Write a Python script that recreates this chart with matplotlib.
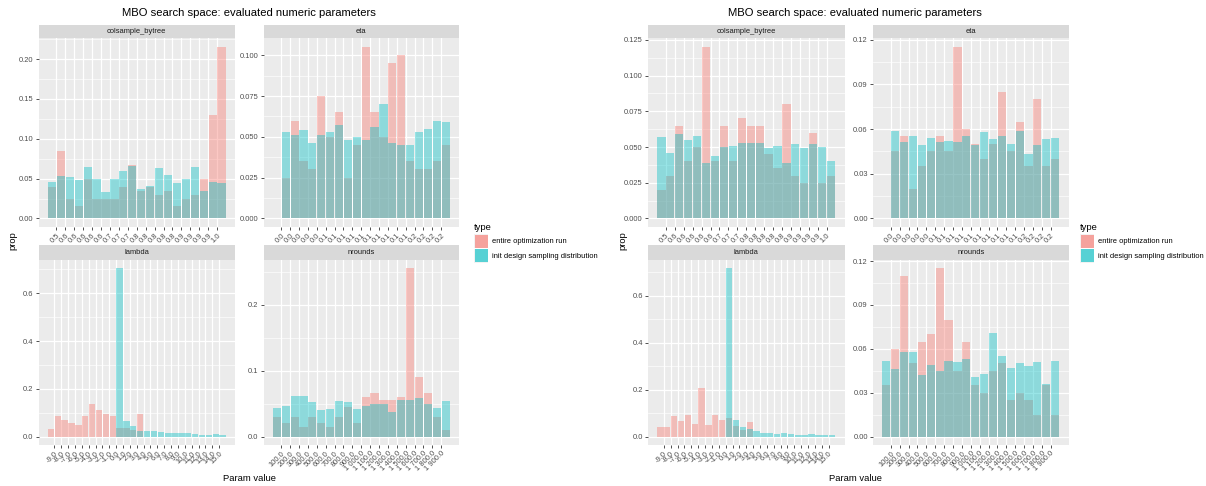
import numpy as np
import matplotlib.pyplot as plt
from matplotlib.patches import Rectangle
from matplotlib.ticker import MultipleLocator, NullLocator

plt.rcParams['font.family'] = ['Liberation Sans', 'DejaVu Sans']

W, H = 1206, 486

RUN_COLOR = '#F8766D'
INIT_COLOR = '#00BFC4'
BAR_ALPHA = 0.4

# x tick labels (bin edges between bars)
colsample_labels = ['0.5', '0.6', '0.6', '0.6', '0.6', '0.6', '0.7', '0.7', '0.7', '0.8',
                    '0.8', '0.8', '0.8', '0.8', '0.9', '0.9', '0.9', '0.9', '1.0']
eta_labels = ['0.0'] * 5 + ['0.1'] * 10 + ['0.2'] * 4
lambda_labels = ['%.1f' % v for v in range(-9, 16)]
nrounds_labels = ['100.0', '200.0', '300.0', '400.0', '500.0', '600.0', '700.0', '800.0', '900.0',
                  '1 000.0', '1 100.0', '1 200.0', '1 300.0', '1 400.0', '1 500.0', '1 600.0',
                  '1 700.0', '1 800.0', '1 900.0']

# experiment 1: proportions per bin
exp1_colsample_run = [0.040, 0.085, 0.025, 0.015, 0.049, 0.025, 0.025, 0.025, 0.040, 0.067,
                      0.035, 0.040, 0.030, 0.035, 0.015, 0.025, 0.030, 0.049, 0.130, 0.215]
exp1_colsample_init = [0.046, 0.053, 0.052, 0.048, 0.064, 0.050, 0.033, 0.050, 0.059, 0.066,
                       0.037, 0.041, 0.063, 0.054, 0.044, 0.050, 0.064, 0.034, 0.046, 0.045]
exp1_eta_run = [0.0, 0.025, 0.060, 0.035, 0.030, 0.075, 0.050, 0.065, 0.025, 0.045,
                0.105, 0.065, 0.050, 0.095, 0.100, 0.035, 0.030, 0.030, 0.035, 0.045]
exp1_eta_init = [0.0, 0.053, 0.051, 0.054, 0.046, 0.051, 0.053, 0.057, 0.048, 0.050,
                 0.048, 0.056, 0.070, 0.046, 0.045, 0.045, 0.053, 0.055, 0.060, 0.059]
exp1_lambda_run = [0.031, 0.085, 0.071, 0.056, 0.050, 0.085, 0.135, 0.110, 0.095, 0.085,
                   0.035, 0.035, 0.027, 0.095, 0, 0, 0, 0, 0, 0, 0, 0, 0, 0, 0, 0]
exp1_lambda_init = [0, 0, 0, 0, 0, 0, 0, 0, 0, 0,
                    0.704, 0.066, 0.046, 0.025, 0.024, 0.022, 0.018, 0.013, 0.013, 0.014,
                    0.017, 0.012, 0.006, 0.006, 0.010, 0.005]
exp1_nrounds_run = [0.030, 0.020, 0.030, 0.015, 0.030, 0.020, 0.015, 0.030, 0.045, 0.020,
                    0.060, 0.066, 0.055, 0.055, 0.060, 0.255, 0.090, 0.066, 0.030, 0.010]
exp1_nrounds_init = [0.044, 0.047, 0.061, 0.061, 0.053, 0.041, 0.042, 0.054, 0.053, 0.042,
                     0.047, 0.050, 0.050, 0.038, 0.056, 0.056, 0.058, 0.049, 0.044, 0.054]

# experiment 2
exp2_colsample_run = [0.020, 0.030, 0.065, 0.040, 0.050, 0.120, 0.040, 0.065, 0.040, 0.070,
                      0.065, 0.065, 0.045, 0.035, 0.080, 0.030, 0.025, 0.060, 0.025, 0.030]
exp2_colsample_init = [0.057, 0.046, 0.059, 0.055, 0.058, 0.039, 0.044, 0.050, 0.051, 0.053,
                       0.053, 0.053, 0.049, 0.051, 0.039, 0.052, 0.049, 0.052, 0.050, 0.040]
exp2_eta_run = [0.0, 0.045, 0.055, 0.020, 0.035, 0.045, 0.055, 0.045, 0.115, 0.060,
                0.050, 0.040, 0.050, 0.085, 0.045, 0.065, 0.035, 0.080, 0.035, 0.040]
exp2_eta_init = [0.0, 0.059, 0.051, 0.055, 0.049, 0.054, 0.051, 0.052, 0.051, 0.055,
                 0.049, 0.058, 0.053, 0.055, 0.050, 0.059, 0.043, 0.049, 0.053, 0.054]
exp2_lambda_run = [0.041, 0.041, 0.088, 0.067, 0.091, 0.055, 0.206, 0.050, 0.091, 0.070,
                   0.080, 0.045, 0.027, 0.061, 0, 0, 0, 0, 0, 0, 0, 0, 0, 0, 0, 0]
exp2_lambda_init = [0, 0, 0, 0, 0, 0, 0, 0, 0, 0,
                    0.717, 0.070, 0.043, 0.034, 0.022, 0.017, 0.017, 0.012, 0.017, 0.011,
                    0.008, 0.005, 0.013, 0.005, 0.005, 0.005]
exp2_nrounds_run = [0.035, 0.060, 0.110, 0.050, 0.065, 0.070, 0.115, 0.080, 0.045, 0.065,
                    0.035, 0.030, 0.045, 0.050, 0.025, 0.030, 0.025, 0.015, 0.035, 0.015]
exp2_nrounds_init = [0.052, 0.046, 0.058, 0.058, 0.042, 0.049, 0.045, 0.052, 0.051, 0.053,
                     0.041, 0.043, 0.071, 0.055, 0.047, 0.050, 0.048, 0.051, 0.036, 0.052]

fig = plt.figure(figsize=(W / 100, H / 100), dpi=100)
fig.patch.set_facecolor('white')


def px_box(x0, y0, x1, y1):
    return [x0 / W, 1 - y1 / H, (x1 - x0) / W, (y1 - y0) / H]


def draw_facet(x0, x1, ys, y0, y1, name, run, init, labels, ystep, ydec):
    # strip with facet name
    strip = fig.add_axes(px_box(x0, ys, x1, y0))
    strip.set_facecolor('#D9D9D9')
    strip.set_xticks([])
    strip.set_yticks([])
    for s in strip.spines.values():
        s.set_visible(False)
    strip.text(0.5, 0.5, name, ha='center', va='center', fontsize=5.4,
               color='#1A1A1A', transform=strip.transAxes)

    ax = fig.add_axes(px_box(x0, y0, x1, y1))
    ax.set_facecolor('#EBEBEB')
    for s in ax.spines.values():
        s.set_visible(False)
    n = len(run)
    centers = np.arange(n) + 0.5
    ax.bar(centers, run, width=0.92, color=RUN_COLOR, alpha=BAR_ALPHA, linewidth=0, zorder=2)
    ax.bar(centers, init, width=0.92, color=INIT_COLOR, alpha=BAR_ALPHA, linewidth=0, zorder=3)

    top = max(max(run), max(init))
    ax.set_xlim(-0.05 * n, 1.05 * n)
    ax.set_ylim(-0.05 * top, 1.05 * top)

    ax.set_xticks(np.arange(1, n))
    ax.set_xticklabels(labels, rotation=45, ha='right', va='top', rotation_mode='anchor')
    ax.xaxis.set_minor_locator(NullLocator())
    yt = np.arange(0, top * 1.05 + 1e-9, ystep)
    ax.set_yticks(yt)
    ax.set_yticklabels(['%.*f' % (ydec, v) for v in yt])
    ax.yaxis.set_minor_locator(MultipleLocator(ystep / 2))

    ax.grid(which='major', color='white', linewidth=0.9, zorder=0)
    ax.grid(which='minor', axis='y', color='white', linewidth=0.45, zorder=0)
    ax.set_axisbelow(True)
    ax.tick_params(which='major', length=2.2, width=0.6, color='#333333',
                   labelsize=5.4, labelcolor='#4D4D4D', pad=1.5)
    ax.tick_params(which='minor', length=0)
    return ax


def draw_block(dx, title_x, data):
    (cs_run, cs_init, cs_step, cs_dec), (eta_run, eta_init, eta_step, eta_dec), \
        (lam_run, lam_init, lam_step, lam_dec), (nr_run, nr_init, nr_step, nr_dec) = data
    lx0, lx1 = 38.5 + dx, 235 + dx
    rx0, rx1 = 263.5 + dx, 459 + dx
    draw_facet(lx0, lx1, 25, 38.5, 227, 'colsample_bytree', cs_run, cs_init,
               colsample_labels, cs_step, cs_dec)
    draw_facet(rx0, rx1, 25, 38.5, 227, 'eta', eta_run, eta_init,
               eta_labels, eta_step, eta_dec)
    draw_facet(lx0, lx1, 245, 260, 445, 'lambda', lam_run, lam_init,
               lambda_labels, lam_step, lam_dec)
    draw_facet(rx0, rx1, 245, 260, 445, 'nrounds', nr_run, nr_init,
               nrounds_labels, nr_step, nr_dec)

    fig.text(title_x / W, 1 - 13 / H, 'MBO search space: evaluated numeric parameters',
             ha='center', va='center', fontsize=8.1, color='black')
    fig.text((13 + dx) / W, 1 - 241 / H, 'prop', rotation=90, ha='center', va='center',
             fontsize=6.75, color='black')
    fig.text(title_x / W, 1 - 478 / H, 'Param value', ha='center', va='center',
             fontsize=6.75, color='black')

    # legend
    lx = 474 + dx * 606 / 609.5
    fig.text(lx / W, 1 - 227 / H, 'type', ha='left', va='center', fontsize=6.75, color='black')
    entries = [('entire optimization run', RUN_COLOR), ('init design sampling distribution', INIT_COLOR)]
    for i, (lab, col) in enumerate(entries):
        ky = 234.5 + i * 14.5
        fig.patches.append(Rectangle((lx / W, 1 - (ky + 14) / H), 14 / W, 14 / H,
                                     transform=fig.transFigure, facecolor='#F2F2F2',
                                     edgecolor='none'))
        fig.patches.append(Rectangle(((lx + 0.5) / W, 1 - (ky + 13.5) / H), 13 / W, 13 / H,
                                     transform=fig.transFigure, facecolor=col,
                                     alpha=1 - (1 - BAR_ALPHA) ** 2, edgecolor='none'))
        fig.text((lx + 18) / W, 1 - (ky + 7) / H, lab, ha='left', va='center',
                 fontsize=5.4, color='black')


draw_block(0, 249, [
    (exp1_colsample_run, exp1_colsample_init, 0.05, 2),
    (exp1_eta_run, exp1_eta_init, 0.025, 3),
    (exp1_lambda_run, exp1_lambda_init, 0.2, 1),
    (exp1_nrounds_run, exp1_nrounds_init, 0.1, 1),
])
draw_block(609.5, 855, [
    (exp2_colsample_run, exp2_colsample_init, 0.025, 3),
    (exp2_eta_run, exp2_eta_init, 0.03, 2),
    (exp2_lambda_run, exp2_lambda_init, 0.2, 1),
    (exp2_nrounds_run, exp2_nrounds_init, 0.03, 2),
])

fig.savefig('out.png', dpi=100)
